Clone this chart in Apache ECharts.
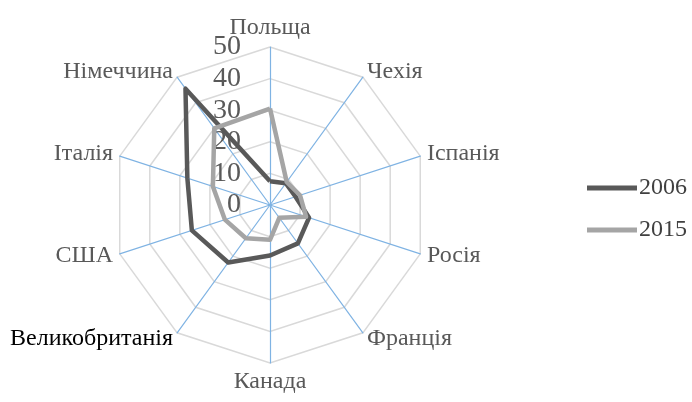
<!DOCTYPE html>
<html>
<head>
<meta charset="utf-8">
<script src="https://cdn.jsdelivr.net/npm/echarts@6/dist/echarts.min.js"></script>
<style>
html,body{margin:0;padding:0;background:#fff;}
#chart{width:692px;height:402px;}
</style>
</head>
<body>
<div id="chart"></div>
<script>
// Categories in clockwise order starting from top
const categories = ['Польща','Чехія','Іспанія','Росія','Франція','Канада','Великобританія','США','Італія','Німеччина'];
const values2006 = [7.5, 8.5, 8.5, 13, 15, 16, 22.5, 26, 27.5, 45.5];
const values2015 = [30.5, 9, 10, 12, 5, 11, 13, 15, 19, 30];
const seriesNames = ['2006','2015'];
const axisMax = 50;
const tickStep = 10;

// ECharts radar runs counter-clockwise: reorder (keep first, reverse rest)
function ccw(arr){ return [arr[0]].concat(arr.slice(1).reverse()); }

const indicator = ccw(categories).map(n => {
  const o = {name: n, max: axisMax, min: 0};
  if (n === 'Великобританія') o.color = '#000000';
  return o;
});

const chart = echarts.init(document.getElementById('chart'));
const center = [270, 205];
const R = 158;
chart.setOption({
  animation: false,
  backgroundColor: '#ffffff',
  legend: {
    orient: 'vertical',
    right: 0,
    top: 171,
    itemWidth: 50,
    itemHeight: 5,
    itemGap: 18,
    icon: 'rect',
    textStyle: {fontFamily: 'Liberation Serif', fontSize: 24, color: '#404040', padding: [0,0,0,-3]},
    data: seriesNames
  },
  radar: {
    center: center,
    radius: R,
    startAngle: 90,
    splitNumber: 5,
    shape: 'polygon',
    indicator: indicator,
    nameGap: 7,
    axisName: {fontFamily: 'Liberation Serif', fontSize: 24, color: '#595959'},
    axisLine: {lineStyle: {color: '#7fb3e3', width: 1.2}},
    splitLine: {lineStyle: {color: '#d9d9d9', width: 1.5}},
    splitArea: {show: false}
  },
  polar: {center: center, radius: R},
  angleAxis: {show: false, startAngle: 90, min: 0, max: 360, type: 'value'},
  radiusAxis: {
    type: 'value', min: 0, max: axisMax, interval: tickStep,
    axisLine: {show: false}, axisTick: {show: false}, splitLine: {show: false},
    axisLabel: {show: true, fontFamily: 'Liberation Serif', fontSize: 28, color: '#595959', margin: 29}
  },
  series: [{
    type: 'radar',
    symbol: 'none',
    data: [
      {name: seriesNames[0], value: ccw(values2006), lineStyle: {color: '#595959', width: 4.5}, itemStyle: {color: '#595959'}},
      {name: seriesNames[1], value: ccw(values2015), lineStyle: {color: '#a5a5a5', width: 4.5}, itemStyle: {color: '#a5a5a5'}}
    ]
  }]
});
</script>
</body>
</html>
